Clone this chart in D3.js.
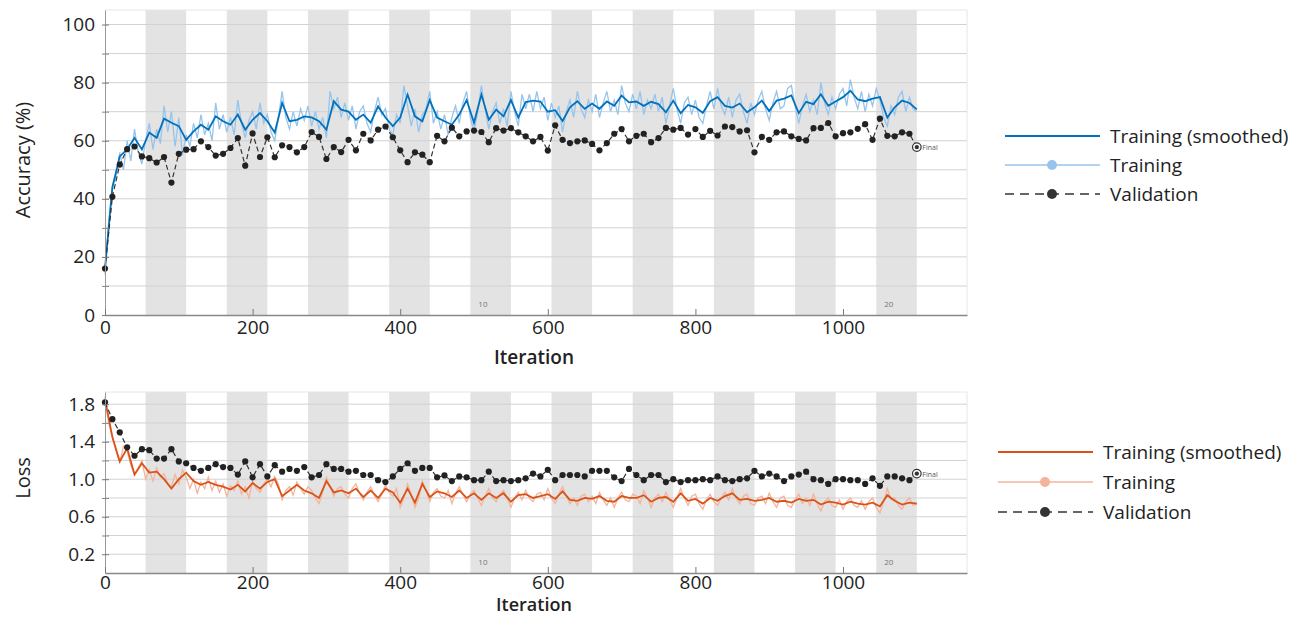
<!DOCTYPE html>
<html>
<head>
<meta charset="utf-8">
<script src="https://cdn.jsdelivr.net/npm/d3@7"></script>
<style>
    body { margin: 0; background: #fff; }
    text { font-family: "Open Sans", sans-serif; fill: #222; }
</style>
</head>
<body>
<div id="chart"></div>
<script>
// ---- data ----
// training (smoothed), one value every 10 iterations
var accSmoothed = [
    16, 44, 54.6, 57, 61, 57, 62.8, 61, 67.6, 66.2,
    65, 60.3, 63.2, 65.5, 63.8, 68.4, 66.7, 65.5, 69, 63.8,
    67.2, 69.5, 66.7, 62.8, 73, 66.7, 67.2, 68.4, 68, 66.7,
    63.8, 73.6, 70.7, 70, 67.2, 69, 66.2, 71.8, 68, 65,
    68, 75.9, 68.4, 66.7, 74, 68, 66.7, 65.5, 69, 74,
    66.2, 75.9, 67.2, 70.7, 68.4, 74, 68, 73.3, 73.8, 73.5,
    70, 70.5, 66.8, 71.5, 73.6, 71, 72.8, 71, 73.5, 72,
    75.5, 73.2, 73.5, 72, 73.4, 72.6, 69.8, 73.8, 69.5, 72.3,
    71.5, 69.6, 73.6, 75, 72, 71.4, 72.8, 69.8, 71.5, 73.8,
    70.2, 73.8, 74.5, 75.6, 69.5, 73.4, 72.6, 76, 72, 73.5,
    75, 77.2, 74.2, 73.6, 74.5, 75, 68, 71.5, 73.8, 73,
    70.8
];
// training (raw), one value every 5 iterations
var accRaw = [
    14, 32, 44, 48, 56, 50, 60, 53, 64, 56,
    52, 60, 66, 57, 64, 59, 72, 63, 70, 58,
    68, 55, 62, 58, 66, 61, 69, 62, 66, 60,
    73, 64, 69, 63, 68, 62, 74, 66, 61, 67,
    70, 64, 73, 66, 69, 63, 60, 68, 77, 68,
    64, 70, 65, 71, 67, 72, 65, 70, 64, 68,
    61, 77, 71, 75, 68, 73, 67, 72, 64, 70,
    72, 66, 63, 70, 75, 69, 71, 64, 62, 69,
    66, 79, 72, 65, 71, 63, 69, 71, 77, 66,
    70, 64, 69, 62, 68, 72, 66, 73, 77, 68,
    63, 70, 79, 71, 64, 70, 73, 66, 71, 65,
    77, 70, 65, 76, 71, 76, 70, 77, 71, 75,
    67, 73, 68, 72, 63, 70, 74, 68, 77, 71,
    68, 74, 70, 76, 68, 73, 77, 70, 74, 69,
    79, 73, 70, 76, 71, 77, 69, 74, 71, 76,
    70, 75, 66, 72, 78, 71, 66, 73, 75, 69,
    74, 68, 66, 72, 77, 71, 78, 72, 69, 75,
    68, 74, 76, 70, 66, 73, 69, 74, 77, 71,
    67, 73, 77, 71, 72, 78, 79, 72, 66, 72,
    76, 70, 74, 69, 80, 73, 69, 75, 71, 76,
    78, 72, 81, 75, 71, 77, 70, 76, 72, 78,
    74, 68, 65, 72, 69, 75, 77, 70, 75, 71,
    70
];
// validation, every 10 iterations, last one is the final value
var accVal = [
    16, 40.7, 51.8, 57.1, 58.0, 54.6, 54.0, 52.5, 54.4, 45.6,
    55.5, 56.9, 57.1, 59.8, 57.8, 54.9, 55.5, 57.5, 60.9, 51.4,
    62.5, 54.4, 61.2, 54.3, 58.4, 57.8, 56.0, 57.8, 63.0, 61.3,
    53.7, 57.8, 56.1, 60.3, 56.7, 62.4, 60.1, 63.8, 64.9, 61.2,
    56.7, 52.6, 56.0, 55.2, 52.6, 61.7, 59.8, 64.5, 61.5, 63.2,
    63.5, 63.0, 59.5, 64.3, 63.5, 64.3, 62.9, 61.5, 59.8, 61.3,
    56.6, 65.3, 60.3, 59.2, 59.8, 60.1, 58.9, 56.7, 59.2, 62.4,
    64.0, 59.8, 61.7, 62.4, 59.5, 60.9, 64.4, 63.8, 64.4, 62.1,
    64.0, 61.3, 63.4, 61.8, 64.9, 64.7, 63.2, 63.6, 56.0, 61.3,
    60.3, 62.9, 63.2, 61.5, 60.6, 60.1, 64.3, 64.4, 66.1, 61.5,
    62.6, 62.9, 64.1, 65.7, 60.3, 67.6, 61.7, 61.5, 62.9, 62.4,
    57.8
];

var lossSmoothed = [
    1.85, 1.45, 1.19, 1.33, 1.05, 1.17, 1.07, 1.08, 1.0, 0.9,
    1.0, 1.07, 0.98, 0.94, 0.97, 0.94, 0.92, 0.89, 0.94, 0.87,
    0.96, 0.9, 0.97, 1.0, 0.82, 0.88, 0.94, 0.88, 0.85, 0.8,
    0.98, 0.86, 0.88, 0.85, 0.9, 0.81, 0.88, 0.8, 0.9, 0.86,
    0.75, 0.9, 0.75, 0.95, 0.81, 0.87, 0.85, 0.81, 0.88, 0.8,
    0.85, 0.78, 0.85, 0.8, 0.85, 0.76, 0.83, 0.84, 0.8, 0.82,
    0.84, 0.79, 0.87, 0.78, 0.77, 0.8, 0.79, 0.82, 0.77, 0.76,
    0.82, 0.8, 0.8, 0.83, 0.76, 0.8, 0.81, 0.76, 0.85, 0.77,
    0.79, 0.74, 0.8, 0.77, 0.82, 0.85, 0.78, 0.79, 0.77, 0.78,
    0.8, 0.76, 0.77, 0.75, 0.79, 0.77, 0.78, 0.73, 0.76, 0.75,
    0.73, 0.76, 0.74, 0.73, 0.75, 0.71, 0.83, 0.77, 0.73, 0.75,
    0.74
];
var lossRaw = [
    1.88, 1.6, 1.45, 1.3, 1.18, 1.35, 1.3, 1.15, 1.05, 1.12,
    1.2, 1.0, 1.1, 0.98, 1.12, 1.02, 1.06, 0.95, 0.92, 1.05,
    0.95, 1.1, 1.02, 0.9, 1.0, 0.85, 0.97, 0.9, 1.02, 0.88,
    0.98, 0.86, 0.95, 0.82, 0.93, 0.88, 0.98, 0.84, 0.92, 0.8,
    0.98, 0.9, 0.86, 0.95, 1.0, 0.92, 1.03, 0.95, 0.78, 0.88,
    0.92, 0.83, 0.97, 0.9, 0.84, 0.92, 0.88, 0.8, 0.74, 0.86,
    1.02, 0.92, 0.82, 0.9, 0.92, 0.84, 0.8, 0.9, 0.95, 0.85,
    0.78, 0.86, 0.92, 0.83, 0.76, 0.84, 0.94, 0.86, 0.82, 0.9,
    0.7, 0.8, 0.95, 0.84, 0.7, 0.8, 0.98, 0.88, 0.76, 0.86,
    0.9, 0.82, 0.8, 0.88, 0.74, 0.85, 0.92, 0.84, 0.76, 0.84,
    0.88, 0.8, 0.72, 0.82, 0.9, 0.8, 0.76, 0.84, 0.88, 0.8,
    0.7, 0.8, 0.86, 0.78, 0.88, 0.8, 0.76, 0.84, 0.86, 0.78,
    0.9, 0.8, 0.74, 0.84, 0.92, 0.82, 0.74, 0.8, 0.72, 0.82,
    0.84, 0.76, 0.82, 0.74, 0.86, 0.78, 0.72, 0.8, 0.7, 0.8,
    0.86, 0.78, 0.76, 0.84, 0.82, 0.74, 0.88, 0.8, 0.7, 0.8,
    0.84, 0.76, 0.86, 0.78, 0.7, 0.8, 0.9, 0.8, 0.72, 0.82,
    0.84, 0.74, 0.68, 0.78, 0.84, 0.76, 0.72, 0.8, 0.86, 0.78,
    0.9, 0.8, 0.74, 0.82, 0.84, 0.74, 0.72, 0.8, 0.82, 0.74,
    0.85, 0.76, 0.7, 0.8, 0.82, 0.72, 0.7, 0.78, 0.84, 0.74,
    0.8, 0.72, 0.84, 0.74, 0.66, 0.76, 0.8, 0.72, 0.7, 0.78,
    0.68, 0.76, 0.8, 0.72, 0.7, 0.77, 0.68, 0.76, 0.8, 0.7,
    0.64, 0.76, 0.9, 0.78, 0.8, 0.72, 0.68, 0.76, 0.8, 0.72,
    0.74
];
var lossVal = [
    1.82, 1.64, 1.50, 1.34, 1.25, 1.32, 1.31, 1.22, 1.22, 1.32,
    1.19, 1.17, 1.12, 1.09, 1.12, 1.16, 1.13, 1.12, 1.05, 1.19,
    1.02, 1.16, 1.03, 1.15, 1.08, 1.11, 1.09, 1.13, 1.02, 1.045,
    1.16, 1.11, 1.11, 1.08, 1.09, 1.045, 1.045, 0.99, 0.97, 1.03,
    1.11, 1.17, 1.09, 1.12, 1.12, 1.02, 1.04, 0.98, 1.03, 1.02,
    0.99, 0.99, 1.08, 0.98, 0.99, 0.98, 0.99, 1.01, 1.06, 1.03,
    1.10, 0.99, 1.045, 1.045, 1.045, 1.03, 1.09, 1.09, 1.09, 1.02,
    0.98, 1.11, 1.045, 0.99, 1.045, 1.045, 0.97, 1.0, 0.97, 0.99,
    0.99, 1.0, 0.99, 1.03, 0.99, 0.98, 1.0, 1.01, 1.09, 1.03,
    1.06, 1.03, 0.98, 1.03, 1.05, 1.08, 1.0, 0.99, 0.95, 1.0,
    1.0, 0.99, 0.99, 0.95, 1.01, 0.93, 1.03, 1.03, 1.01, 0.99,
    1.06
];

var accTicks = [0, 20, 40, 60, 80, 100];
var accMinor = [10, 30, 50, 70, 90];
var accGrid = [10, 20, 30, 40, 50, 60, 70, 80, 90, 100];
var lossTicks = [0.2, 0.6, 1.0, 1.4, 1.8];
var lossMinor = [0.4, 0.8, 1.2, 1.6];
var lossGrid = [0.2, 0.4, 0.6, 0.8, 1.0, 1.2, 1.4, 1.6, 1.8];
var iterTicks = [0, 200, 400, 600, 800, 1000];
var legendLabels = ["Training (smoothed)", "Training", "Validation"];
var epochLabels = [10, 20];

var smoothStep = 10, rawStep = 5, valStep = 10;
var itersPerEpoch = 55, numEpochs = 20, maxIter = 1168;

var width = 1299, height = 617;
var left = 105, right = 967;

var canvas = d3.select("#chart")
                .append("svg")
                .attr("width", width)
                .attr("height", height);

function panel(p) {
    var xScale = d3.scaleLinear()
                    .domain([0, maxIter])
                    .range([left, right]);
    var yScale = d3.scaleLinear()
                    .domain(p.yDomain)
                    .range([p.bottom, p.top]);

    var g = canvas.append("g");

    // grey bands for every second epoch
    var evenEpochs = d3.range(2, numEpochs + 1, 2);
    g.selectAll(".band")
        .data(evenEpochs)
        .enter()
        .append("rect")
        .attr("x", function(e) { return xScale((e - 1) * itersPerEpoch); })
        .attr("width", xScale(itersPerEpoch) - xScale(0))
        .attr("y", p.top)
        .attr("height", p.bottom - p.top)
        .attr("fill", "#e3e3e3");

    // horizontal grid
    g.selectAll(".grid")
        .data(p.grid)
        .enter()
        .append("line")
        .attr("x1", left)
        .attr("x2", right)
        .attr("y1", function(d) { return yScale(d); })
        .attr("y2", function(d) { return yScale(d); })
        .attr("stroke", "#d2d2d2")
        .attr("stroke-width", 1);

    // frame (top and right)
    g.append("path")
        .attr("d", "M" + left + "," + p.top + "H" + right + "V" + p.bottom)
        .attr("fill", "none")
        .attr("stroke", "#e6e6e6");

    // epoch numbers
    g.selectAll(".epoch")
        .data(epochLabels)
        .enter()
        .append("text")
        .attr("x", function(e) { return xScale((e - 1) * itersPerEpoch) + 8; })
        .attr("y", p.bottom - 8)
        .attr("font-size", 8)
        .style("fill", "#777")
        .text(function(e) { return e; });

    // raw training
    var rawLine = d3.line()
                    .x(function(d, i) { return xScale(i * rawStep); })
                    .y(function(d) { return yScale(d); });
    g.append("path")
        .datum(p.raw)
        .attr("d", rawLine)
        .attr("fill", "none")
        .attr("stroke", p.rawColor)
        .attr("stroke-width", 1.3);

    // smoothed training
    var smoothLine = d3.line()
                    .x(function(d, i) { return xScale(i * smoothStep); })
                    .y(function(d) { return yScale(d); });
    g.append("path")
        .datum(p.smoothed)
        .attr("d", smoothLine)
        .attr("fill", "none")
        .attr("stroke", p.color)
        .attr("stroke-width", 1.8);

    // validation
    var valLine = d3.line()
                    .x(function(d, i) { return xScale(i * valStep); })
                    .y(function(d) { return yScale(d); });
    g.append("path")
        .datum(p.val)
        .attr("d", valLine)
        .attr("fill", "none")
        .attr("stroke", "#333")
        .attr("stroke-width", 1.2)
        .attr("stroke-dasharray", "5,3");

    var last = p.val.length - 1;
    g.selectAll(".vdot")
        .data(p.val.slice(0, last))
        .enter()
        .append("circle")
        .attr("cx", function(d, i) { return xScale(i * valStep); })
        .attr("cy", function(d) { return yScale(d); })
        .attr("r", 3.1)
        .attr("fill", "#222");

    // final marker
    var fx = xScale(last * valStep), fy = yScale(p.val[last]);
    g.append("circle").attr("cx", fx).attr("cy", fy).attr("r", 4.3)
        .attr("fill", "#fff").attr("stroke", "#333").attr("stroke-width", 1.2);
    g.append("circle").attr("cx", fx).attr("cy", fy).attr("r", 2.2).attr("fill", "#333");
    g.append("text").attr("x", fx + 5.5).attr("y", fy + 3)
        .attr("font-size", 7).style("fill", "#555").text("Final");

    // axes
    var yAxis = d3.axisLeft(yScale)
                .tickValues(p.ticks)
                .tickFormat(p.format)
                .tickSizeInner(4)
                .tickSizeOuter(0)
                .tickPadding(6);
    var ya = g.append("g")
        .attr("transform", "translate(" + left + ",0)")
        .call(yAxis);
    ya.selectAll(".tick line").attr("x2", -3).attr("x1", 4).attr("stroke", "#777");
    ya.select(".domain").attr("stroke", "#999");
    ya.selectAll("text").attr("font-size", 19).style("font-family", "Open Sans");

    var yMinor = d3.axisLeft(yScale)
                .tickValues(p.minor)
                .tickFormat("")
                .tickSizeInner(4)
                .tickSizeOuter(0);
    var ym = g.append("g")
        .attr("transform", "translate(" + left + ",0)")
        .call(yMinor);
    ym.selectAll(".tick line").attr("x2", -3).attr("x1", 4).attr("stroke", "#888");
    ym.select(".domain").remove();

    var xAxis = d3.axisBottom(xScale)
                .tickValues(iterTicks)
                .tickFormat(d3.format("d"))
                .tickSizeInner(-6)
                .tickSizeOuter(0)
                .tickPadding(p.tickPad);
    var xa = g.append("g")
        .attr("transform", "translate(0," + p.bottom + ")")
        .call(xAxis);
    xa.select(".domain").attr("stroke", "#888").attr("stroke-width", 1.5);
    xa.selectAll(".tick line").attr("stroke", "#777");
    xa.selectAll("text").attr("font-size", 19).style("font-family", "Open Sans");

    // axis labels
    g.append("text")
        .attr("x", (left + right) / 2 - 2)
        .attr("y", p.bottom + p.xLabelGap)
        .attr("text-anchor", "middle")
        .attr("font-size", p.xLabelSize)
        .attr("font-weight", 600)
        .text("Iteration");

    g.append("text")
        .attr("transform", "translate(30," + p.labelY + ") rotate(-90)")
        .attr("text-anchor", "middle")
        .attr("font-size", 20)
        .text(p.label);

    // legend
    var lg = canvas.append("g");
    var rows = lg.selectAll(".row")
        .data(legendLabels)
        .enter()
        .append("g")
        .attr("transform", function(d, i) { return "translate(0," + (p.legendY + i * p.legendGap) + ")"; });

    rows.append("line")
        .attr("x1", p.legendX)
        .attr("x2", p.legendX + 95)
        .attr("stroke", function(d, i) { return i == 0 ? p.color : (i == 1 ? p.rawColor : "#333"); })
        .attr("stroke-width", function(d, i) { return i == 0 ? 2.2 : 1.4; })
        .attr("stroke-dasharray", function(d, i) { return i == 2 ? "9,6" : null; });
    rows.filter(function(d, i) { return i > 0; })
        .append("circle")
        .attr("cx", p.legendX + 47)
        .attr("r", 5)
        .attr("fill", function(d, i) { return i == 0 ? p.rawColor : "#333"; });
    rows.append("text")
        .attr("x", p.legendX + 105)
        .attr("y", 6.5)
        .attr("font-size", 19)
        .text(function(d) { return d; });
}

function init() {
    panel({
        top: 10, bottom: 315, yDomain: [0, 105],
        ticks: accTicks, minor: accMinor, grid: accGrid,
        format: d3.format("d"),
        smoothed: accSmoothed, raw: accRaw, val: accVal,
        color: "#0072bd", rawColor: "#97c4ec",
        label: "Accuracy (%)", labelY: 160,
        xLabelGap: 49, xLabelSize: 19, tickPad: 5,
        legendX: 1005, legendY: 136, legendGap: 29
    });
    panel({
        top: 392, bottom: 573, yDomain: [0, 1.93],
        ticks: lossTicks, minor: lossMinor, grid: lossGrid,
        format: d3.format(".1f"),
        smoothed: lossSmoothed, raw: lossRaw, val: lossVal,
        color: "#d95319", rawColor: "#f4b39b",
        label: "Loss", labelY: 478,
        xLabelGap: 38, xLabelSize: 18, tickPad: 2,
        legendX: 998, legendY: 452, legendGap: 30
    });
}
window.onload = init;
</script>
</body>
</html>
